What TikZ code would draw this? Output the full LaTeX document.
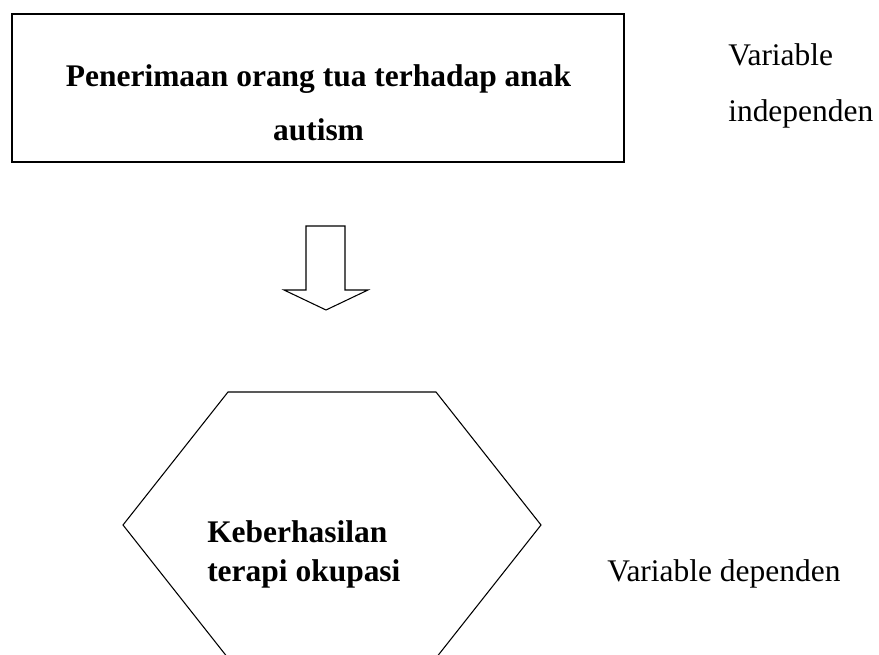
\documentclass[tikz,border=0pt]{standalone}
\usepackage{fontspec}
\setmainfont{Liberation Serif}
\begin{document}
\begin{tikzpicture}[x=0.75pt,y=-0.75pt,
  boldtxt/.style={font=\fontsize{23.6}{29}\selectfont\bfseries, inner sep=0pt, anchor=base},
  plaintxt/.style={font=\fontsize{23.6}{29}\selectfont, inner sep=0pt, anchor=base west},
  thinline/.style={line width=0.8pt, line join=miter}]
\useasboundingbox (0,0) rectangle (879,655);
% top box
\node[draw, line width=1.3pt, minimum width=459pt, minimum height=111pt, inner sep=0pt] (box) at (318,88) {};
\node[boldtxt] (t1) at (318.5,87) {Penerimaan orang tua terhadap anak};
\node[boldtxt] (t2) at (318.5,141) {autism};
% side labels
\node[plaintxt] (v1) at (728,66) {Variable};
\node[plaintxt] (v2) at (728,122) {independen};
\node[plaintxt] (v3) at (607,582) {Variable dependen};
% block arrow
\draw[thinline] (306,226) -- (345,226) -- (345,290) -- (368,290) -- (326,310) -- (284,290) -- (306,290) -- cycle;
% hexagon
\begin{scope}
\clip (0,0) rectangle (879,655);
\draw[thinline] (228,392) -- (436,392) -- (541,525) -- (436,658) -- (228,658) -- (123,525) -- cycle;
\end{scope}
\node[boldtxt, anchor=base west] (h1) at (207,543) {Keberhasilan};
\node[boldtxt, anchor=base west] (h2) at (207,582) {terapi okupasi};
\end{tikzpicture}
\end{document}
